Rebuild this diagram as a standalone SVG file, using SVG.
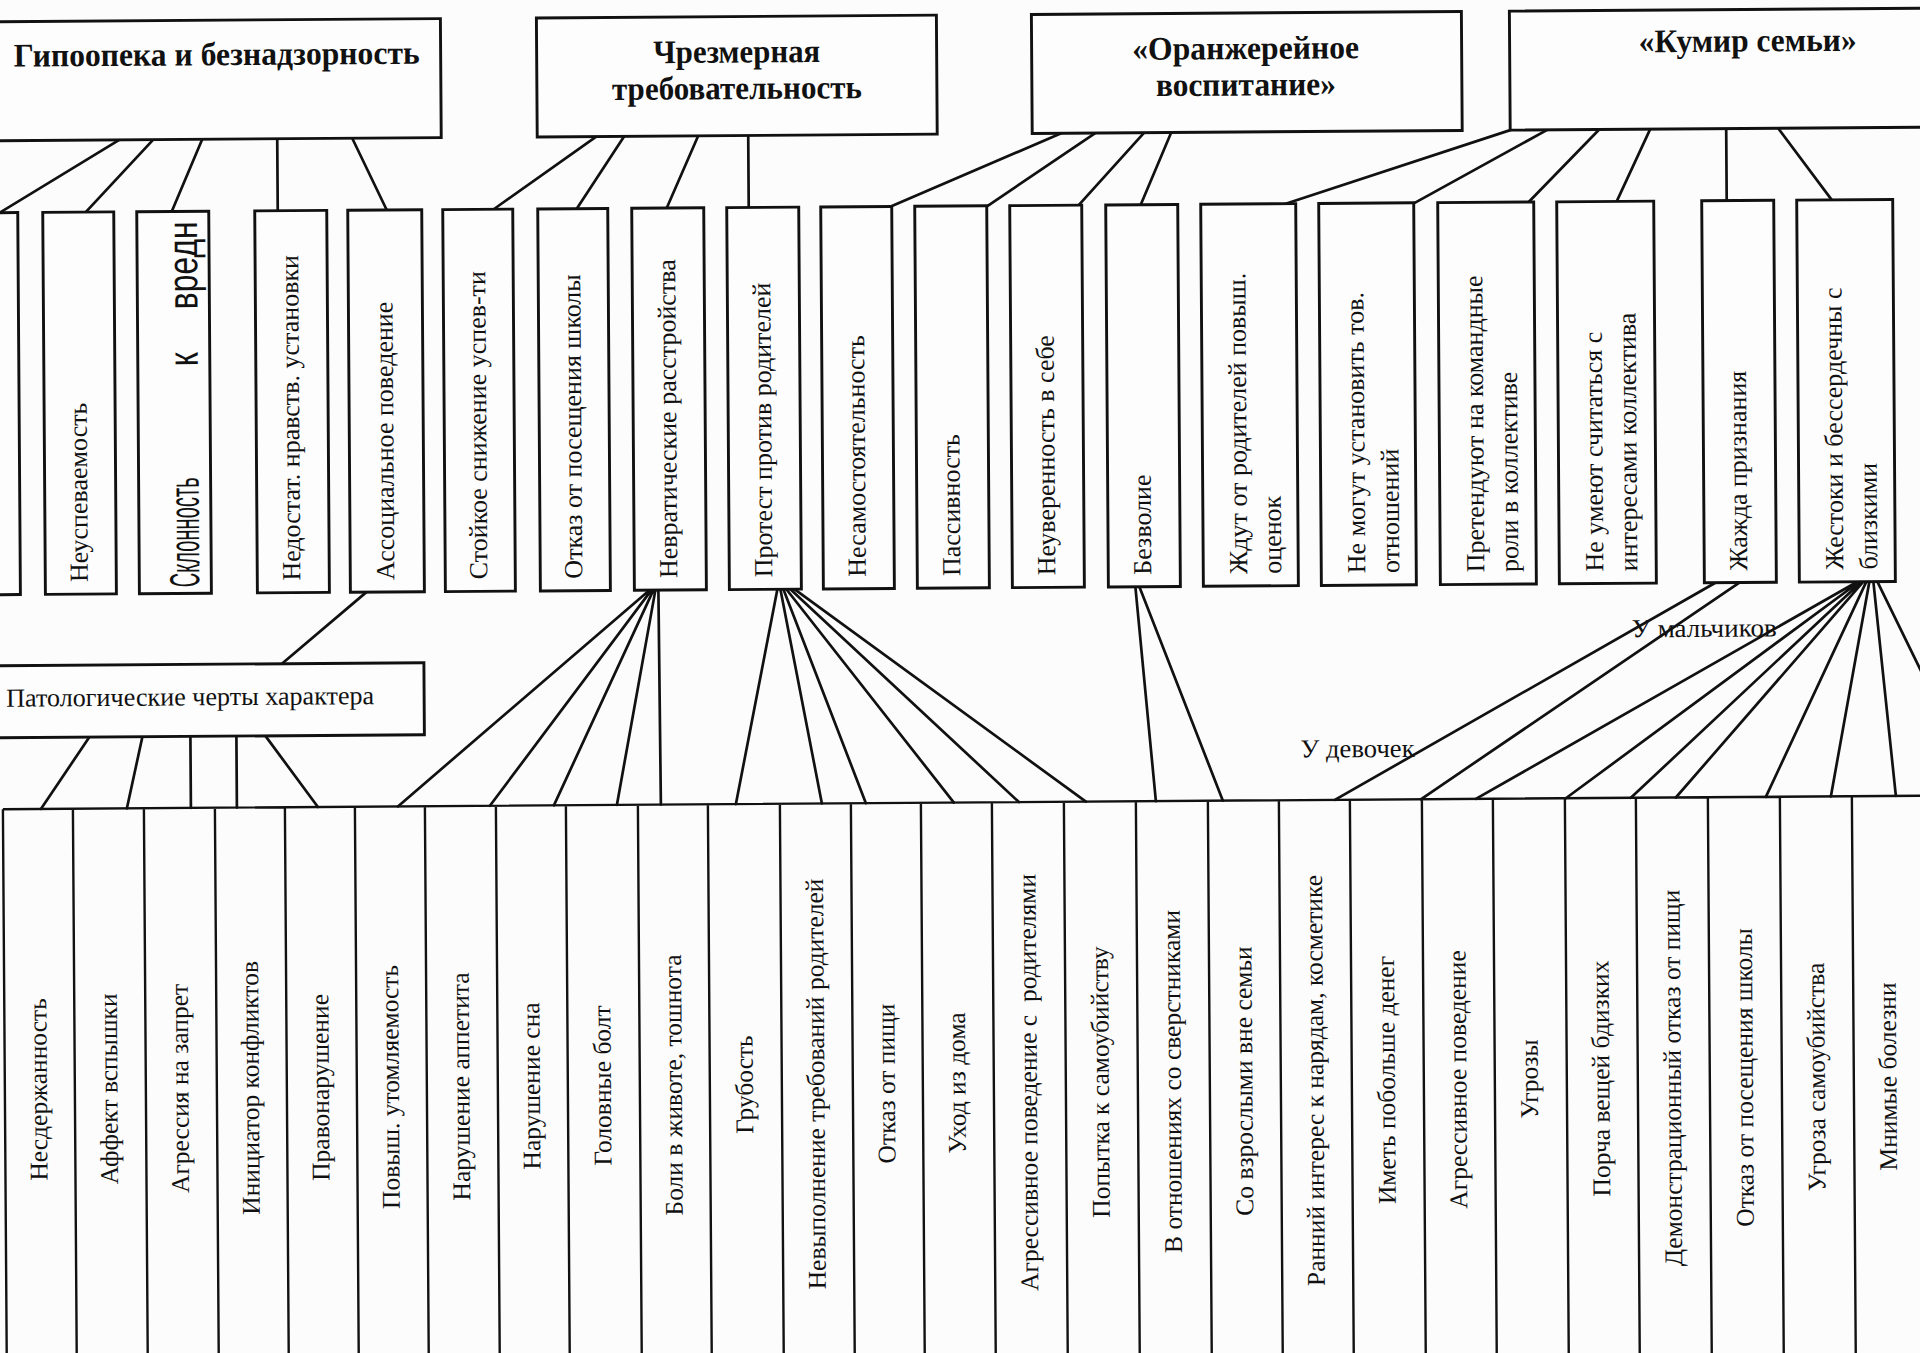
<svg xmlns="http://www.w3.org/2000/svg" width="1920" height="1353" viewBox="0 0 1920 1353">
<style>
.bx{fill:#fdfdfd;stroke:#111;stroke-width:2.9}
.ln{stroke:#111;stroke-width:2.7;fill:none;stroke-linecap:round}
.dv{stroke:#111;stroke-width:2.4;fill:none}
.t{font-family:"Liberation Serif","Times New Roman",serif;fill:#111}
.h{font-size:33px;font-weight:bold}
.r2{font-size:26px}
.r3{font-size:25.5px;text-anchor:middle}
.lb{font-size:26px}
.sk{font-family:"Liberation Sans",Arial,sans-serif;font-size:42px;fill:#111}
</style>
<rect width="1920" height="1353" fill="#fcfcfc"/>
<g transform="rotate(-0.4 960 676)">
<g id="connectors">
<path class="ln" d="M123,134 L3,206 M157,134 L89,206 M206,134 L175,206 M281,134 L281,206 M356,134 L390,206"/>
<path class="ln" d="M600,134 L497,206 M628,134 L580,206 M702,134 L670,206 M752,134 L752,206"/>
<path class="ln" d="M1065,134 L894,206 M1099,134 L991,206 M1148,134 L1082,206 M1175,134 L1144,206"/>
<path class="ln" d="M1514,134 L1289,206 M1551,134 L1418,206 M1603,134 L1532,206 M1654,134 L1620,206 M1730,134 L1730,206 M1782,134 L1835,206"/>
<path class="ln" d="M367,588 L282,659"/>
<path class="ln" d="M89,731 L40,802.5 M142,731 L126,802.5 M190,731 L190,802.5 M236,731 L236,802.5 M265,731 L317,802.5"/>
<path class="ln" d="M650,588 L397,802.5 M652,588 L489,802.5 M654,588 L553,802.5 M656,588 L616,802.5 M659,588 L660,802.5"/>
<path class="ln" d="M778,588 L735,802.5 M781,588 L821,802.5 M784,588 L865,802.5 M787,588 L953,802.5 M791,588 L1018,802.5 M795,588 L1085,802.5"/>
<path class="ln" d="M1136,588 L1155,802.5 M1140,588 L1222,802.5"/>
<path class="ln" d="M1716,588 L1334,802.5 M1740,588 L1420,802.5"/>
<path class="ln" d="M1858,588 L1475,802.5 M1860,588 L1565,802.5 M1862,588 L1630,802.5 M1864,588 L1675,802.5 M1867,588 L1765,802.5 M1870,588 L1830,802.5 M1874,588 L1895,802.5 M1878,588 L1981,802.5"/>
</g>
<g id="label-girls"><text class="t lb" x="1300" y="760" textLength="114" lengthAdjust="spacingAndGlyphs">У девочек</text></g>
<g id="label-boys"><text class="t lb" x="1632" y="642" textLength="145" lengthAdjust="spacingAndGlyphs">У мальчиков</text></g>

<g id="top-hypo"><rect class="bx" x="-10" y="15" width="455" height="119"/>
<text class="t h" x="18" y="60" textLength="406" lengthAdjust="spacingAndGlyphs">Гипоопека и безнадзорность</text></g>
<g id="top-demand"><rect class="bx" x="541" y="15" width="400" height="119"/>
<text class="t h" x="741" y="61" text-anchor="middle" textLength="167" lengthAdjust="spacingAndGlyphs">Чрезмерная</text>
<text class="t h" x="741" y="97.5" text-anchor="middle" textLength="250" lengthAdjust="spacingAndGlyphs">требовательность</text></g>
<g id="top-greenhouse"><rect class="bx" x="1036" y="15" width="430" height="119"/>
<text class="t h" x="1250" y="61" text-anchor="middle" textLength="227" lengthAdjust="spacingAndGlyphs">«Оранжерейное</text>
<text class="t h" x="1250" y="97.5" text-anchor="middle" textLength="180" lengthAdjust="spacingAndGlyphs">воспитание»</text></g>
<g id="top-idol"><rect class="bx" x="1514" y="15" width="476" height="119"/>
<text class="t h" x="1752" y="57" text-anchor="middle" textLength="218" lengthAdjust="spacingAndGlyphs">«Кумир семьи»</text></g>

<g id="n-b0"><rect class="bx" x="-50" y="206" width="71" height="382"/></g>
<g id="n-b1"><rect class="bx" x="46" y="206" width="71" height="382"/><text class="t r2" transform="translate(88.5,576) rotate(-90)">Неуспеваемость</text></g>
<g id="n-b2"><rect class="bx" x="140" y="206" width="72" height="382"/>
<text class="sk" transform="translate(200,582) rotate(-90)" textLength="110" lengthAdjust="spacingAndGlyphs">Склонность</text>
<text class="sk" transform="translate(200,361) rotate(-90)" textLength="14" lengthAdjust="spacingAndGlyphs">к</text>
<text class="sk" transform="translate(200,304) rotate(-90)" textLength="88" lengthAdjust="spacingAndGlyphs">вредн</text></g>
<g id="n-b3"><rect class="bx" x="258" y="206" width="72" height="382"/><text class="t r2" transform="translate(301,576) rotate(-90)">Недостат. нравств. установки</text></g>
<g id="n-b4"><rect class="bx" x="351" y="206" width="74" height="382"/><text class="t r2" transform="translate(395,576) rotate(-90)">Ассоциальное поведение</text></g>
<g id="n-b5"><rect class="bx" x="446" y="206" width="70" height="382"/><text class="t r2" transform="translate(488,576) rotate(-90)">Стойкое снижение успев-ти</text></g>
<g id="n-b6"><rect class="bx" x="541" y="206" width="70" height="382"/><text class="t r2" transform="translate(583,576) rotate(-90)">Отказ от посещения школы</text></g>
<g id="n-b7"><rect class="bx" x="635" y="206" width="72" height="382"/><text class="t r2" transform="translate(678,576) rotate(-90)">Невратические расстройства</text></g>
<g id="n-b8"><rect class="bx" x="730" y="206" width="72" height="382"/><text class="t r2" transform="translate(773,576) rotate(-90)">Протест против родителей</text></g>
<g id="n-b9"><rect class="bx" x="824" y="206" width="71" height="382"/><text class="t r2" transform="translate(866.5,576) rotate(-90)">Несамостоятельность</text></g>
<g id="n-b10"><rect class="bx" x="918" y="206" width="72" height="382"/><text class="t r2" transform="translate(961,576) rotate(-90)">Пассивность</text></g>
<g id="n-b11"><rect class="bx" x="1013" y="206" width="72" height="382"/><text class="t r2" transform="translate(1056,576) rotate(-90)">Неуверенность в себе</text></g>
<g id="n-b12"><rect class="bx" x="1109" y="206" width="72" height="382"/><text class="t r2" transform="translate(1152,576) rotate(-90)">Безволие</text></g>
<g id="n-b13"><rect class="bx" x="1204" y="206" width="95" height="382"/><text class="t r2" transform="translate(1248,576) rotate(-90)">Ждут от родителей повыш.</text><text class="t r2" transform="translate(1282,576) rotate(-90)">оценок</text></g>
<g id="n-b14"><rect class="bx" x="1322" y="206" width="95" height="382"/><text class="t r2" transform="translate(1366,576) rotate(-90)">Не могут установить тов.</text><text class="t r2" transform="translate(1400,576) rotate(-90)">отношений</text></g>
<g id="n-b15"><rect class="bx" x="1441" y="206" width="96" height="382"/><text class="t r2" transform="translate(1485,576) rotate(-90)">Претендуют на командные</text><text class="t r2" transform="translate(1519,576) rotate(-90)">роли в коллективе</text></g>
<g id="n-b16"><rect class="bx" x="1560" y="206" width="97" height="382"/><text class="t r2" transform="translate(1604,576) rotate(-90)">Не умеют считаться с</text><text class="t r2" transform="translate(1638,576) rotate(-90)">интересами коллектива</text></g>
<g id="n-b17"><rect class="bx" x="1705" y="206" width="72" height="382"/><text class="t r2" transform="translate(1748,576) rotate(-90)">Жажда признания</text></g>
<g id="n-b18"><rect class="bx" x="1800" y="206" width="96" height="382"/><text class="t r2" transform="translate(1844,576) rotate(-90)">Жестоки и бессердечны с</text><text class="t r2" transform="translate(1878,576) rotate(-90)">близкими</text></g>

<g id="n-patho"><rect class="bx" x="-10" y="659" width="434" height="72"/>
<text class="t lb" x="6" y="700" textLength="368" lengthAdjust="spacingAndGlyphs">Патологические черты характера</text></g>

<g id="row3">
<path class="dv" d="M2,802.5 H1995 M2,802.5 V1420 M72,802.5 V1420 M143,802.5 V1420 M214,802.5 V1420 M284,802.5 V1420 M354,802.5 V1420 M424,802.5 V1420 M495,802.5 V1420 M565,802.5 V1420 M637,802.5 V1420 M707,802.5 V1420 M779,802.5 V1420 M850,802.5 V1420 M920,802.5 V1420 M991,802.5 V1420 M1063,802.5 V1420 M1135,802.5 V1420 M1207,802.5 V1420 M1278,802.5 V1420 M1349,802.5 V1420 M1421,802.5 V1420 M1492,802.5 V1420 M1564,802.5 V1420 M1635,802.5 V1420 M1707,802.5 V1420 M1779,802.5 V1420 M1851,802.5 V1420 M1922,802.5 V1420"/>
<g id="c0"><text class="t r3" transform="translate(44,1083) rotate(-90)">Несдержанность</text></g>
<g id="c1"><text class="t r3" transform="translate(114.5,1083) rotate(-90)">Аффект вспышки</text></g>
<g id="c2"><text class="t r3" transform="translate(185.5,1083) rotate(-90)">Агрессия на запрет</text></g>
<g id="c3"><text class="t r3" transform="translate(256,1083) rotate(-90)">Инициатор конфликтов</text></g>
<g id="c4"><text class="t r3" transform="translate(326,1083) rotate(-90)">Правонарушение</text></g>
<g id="c5"><text class="t r3" transform="translate(396,1083) rotate(-90)">Повыш. утомляемость</text></g>
<g id="c6"><text class="t r3" transform="translate(466.5,1083) rotate(-90)">Нарушение аппетита</text></g>
<g id="c7"><text class="t r3" transform="translate(537,1083) rotate(-90)">Нарушение сна</text></g>
<g id="c8"><text class="t r3" transform="translate(608,1083) rotate(-90)">Головные болт</text></g>
<g id="c9"><text class="t r3" transform="translate(679,1083) rotate(-90)">Боли в животе, тошнота</text></g>
<g id="c10"><text class="t r3" transform="translate(750,1083) rotate(-90)">Грубость</text></g>
<g id="c11"><text class="t r3" transform="translate(821.5,1083) rotate(-90)">Невыполнение требований родителей</text></g>
<g id="c12"><text class="t r3" transform="translate(892,1083) rotate(-90)">Отказ от пищи</text></g>
<g id="c13"><text class="t r3" transform="translate(962.5,1083) rotate(-90)">Уход из дома</text></g>
<g id="c14"><text class="t r3" transform="translate(1034,1083) rotate(-90)" style="white-space:pre">Агрессивное поведение с  родителями</text></g>
<g id="c15"><text class="t r3" transform="translate(1106,1083) rotate(-90)">Попытка к самоубийству</text></g>
<g id="c16"><text class="t r3" transform="translate(1178,1083) rotate(-90)">В отношениях со сверстниками</text></g>
<g id="c17"><text class="t r3" transform="translate(1249.5,1083) rotate(-90)">Со взрослыми вне семьи</text></g>
<g id="c18"><text class="t r3" transform="translate(1320.5,1083) rotate(-90)">Ранний интерес к нарядам, косметике</text></g>
<g id="c19"><text class="t r3" transform="translate(1392,1083) rotate(-90)">Иметь побольше денег</text></g>
<g id="c20"><text class="t r3" transform="translate(1463.5,1083) rotate(-90)">Агрессивное поведение</text></g>
<g id="c21"><text class="t r3" transform="translate(1535,1083) rotate(-90)">Угрозы</text></g>
<g id="c22"><text class="t r3" transform="translate(1606.5,1083) rotate(-90)">Порча вещей бдизких</text></g>
<g id="c23"><text class="t r3" transform="translate(1678,1083) rotate(-90)">Демонстрационный отказ от пищи</text></g>
<g id="c24"><text class="t r3" transform="translate(1750,1083) rotate(-90)">Отказ от посещения школы</text></g>
<g id="c25"><text class="t r3" transform="translate(1822,1083) rotate(-90)">Угроза самоубийства</text></g>
<g id="c26"><text class="t r3" transform="translate(1893.5,1083) rotate(-90)">Мнимые болезни</text></g>
</g>
</g>
</svg>
